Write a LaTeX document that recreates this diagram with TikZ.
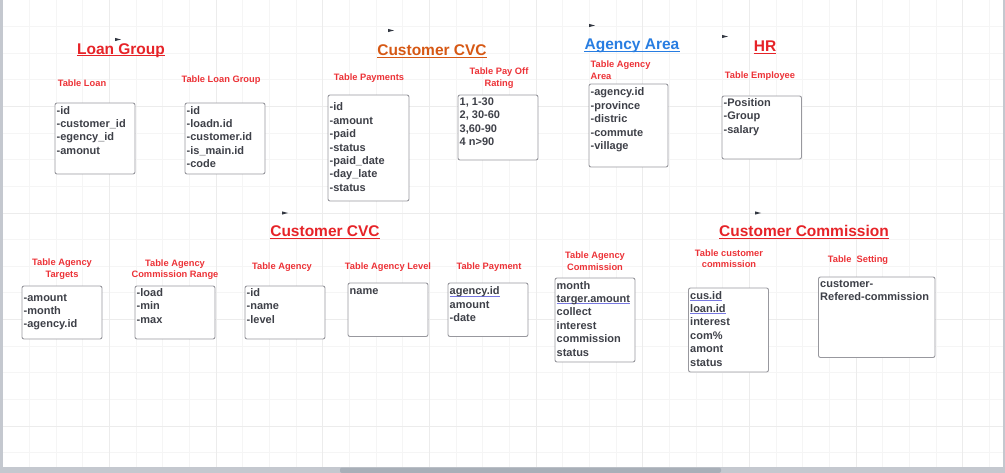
\documentclass[tikz,border=0pt]{standalone}
\usepackage{fontspec}
\setmainfont{Liberation Sans}
\definecolor{ttlred}{RGB}{230,35,40}
\definecolor{ttlorange}{RGB}{214,88,20}
\definecolor{ttlblue}{RGB}{40,125,225}
\definecolor{lblred}{RGB}{236,50,55}
\definecolor{fldgray}{RGB}{62,64,72}
\definecolor{boxgray}{RGB}{152,152,158}
\definecolor{lnkblue}{RGB}{120,120,225}
\definecolor{bargray}{RGB}{196,200,207}
\definecolor{thumbgray}{RGB}{168,175,184}
\definecolor{flagdark}{RGB}{50,55,65}
\newcommand{\lnk}[1]{\setbox0\hbox{#1}\rlap{\color{lnkblue}\rule[-1.7pt]{\wd0}{0.9pt}}\box0}

\begin{document}
\begin{tikzpicture}[x=1pt,y=-1pt,
  ttl/.style={font=\fontsize{15.5}{18}\selectfont\bfseries, inner sep=0pt, anchor=north, execute at begin node=\vphantom{Tb}},
  lbl/.style={font=\fontsize{9.3}{11.6}\selectfont\bfseries, text=lblred, inner sep=0pt, align=center, anchor=north, execute at begin node=\vphantom{Tb}},
  tbl/.style={draw=boxgray, line width=0.9pt, rounded corners=2pt, fill=white, inner sep=0pt, outer sep=0pt, anchor=north west},
  fld/.style={font=\fontsize{11}{13.4}\selectfont\bfseries, text=fldgray, inner sep=0pt, align=left, anchor=north west, execute at begin node=\vphantom{Tb}},
  ul/.style={line width=1.3pt}]
\useasboundingbox (0,0) rectangle (1005,473);
% grid
\foreach \k in {1,...,37} \draw[gray!8, line width=0.9pt] (2.7+26.67*\k,0) -- (2.7+26.67*\k,467);
\foreach \k in {1,...,17} \draw[gray!8, line width=0.9pt] (0,26.63*\k) -- (1005,26.63*\k);
\foreach \k in {4,8,...,36} \draw[gray!15, line width=0.9pt] (2.7+26.67*\k,0) -- (2.7+26.67*\k,467);
\foreach \k in {4,8,12,16} \draw[gray!15, line width=0.9pt] (0,26.63*\k) -- (1005,26.63*\k);
\fill[bargray] (0,0) rectangle (2.5,467);
\fill[bargray] (1002.5,0) rectangle (1005,467);
\fill[bargray] (0,467) rectangle (1005,473);
\fill[thumbgray, rounded corners=2pt] (340,467.5) rectangle (721,473);
\foreach \fx/\fy in {118/39.5, 391/30.5, 592/25.5, 725/36.5, 285/213, 758/213}
  \fill[flagdark] (\fx-3,\fy-1.6) -- (\fx+3,\fy) -- (\fx-3,\fy+1.6) -- cycle;

\node[ttl, text=ttlred] (lg) at (121, 42.7) {Loan Group};
\node[ttl, text=ttlorange] (cvc1) at (432, 44.4) {Customer CVC};
\node[ttl, text=ttlblue] (area) at (632, 38.5) {Agency Area};
\node[ttl, text=ttlred] (hr) at (765, 40.5) {HR};
\node[ttl, text=ttlred] (cvc2) at (325, 225.5) {Customer CVC};
\node[ttl, text=ttlred] (ccom) at (804, 225.5) {Customer Commission};
\draw[ul, ttlred] ([yshift=-1.6pt]lg.base west) -- ([yshift=-1.6pt]lg.base east);
\draw[ul, ttlorange] ([yshift=-1.6pt]cvc1.base west) -- ([yshift=-1.6pt]cvc1.base east);
\draw[ul, ttlblue] ([yshift=-1.6pt]area.base west) -- ([yshift=-1.6pt]area.base east);
\draw[ul, ttlred] ([yshift=-1.6pt]hr.base west) -- ([yshift=-1.6pt]hr.base east);
\draw[ul, ttlred] ([yshift=-1.6pt]cvc2.base west) -- ([yshift=-1.6pt]cvc2.base east);
\draw[ul, ttlred] ([yshift=-1.6pt]ccom.base west) -- ([yshift=-1.6pt]ccom.base east);

\node[lbl] (loanL) at (82, 79.5) {Table Loan};
\node[lbl] (lgrpL) at (221, 75.5) {Table Loan Group};
\node[lbl] (payL) at (369, 73.5) {Table Payments};
\node[lbl] (rateL) at (499, 67.5) {Table Pay Off\\Rating};
\node[lbl, align=left, anchor=north west] (areaL) at (590.5, 60.5) {Table Agency\\Area};
\node[lbl] (empL) at (760, 72) {Table Employee};
\node[lbl] (tgtL) at (62, 258.5) {Table Agency\\Targets};
\node[lbl] (rngL) at (175, 259.2) {Table Agency\\Commission Range};
\node[lbl] (agyL) at (282, 262.2) {Table Agency};
\node[lbl] (lvlL) at (388, 262.2) {Table Agency Level};
\node[lbl] (pmtL) at (489, 262.2) {Table Payment};
\node[lbl] (acomL) at (595, 251.5) {Table Agency\\Commission};
\node[lbl] (ccomL) at (729, 249.2) {Table customer\\commission};
\node[lbl] (setL) at (858, 255.5) {Table\ \ Setting};

\node[tbl, minimum width=80, minimum height=71] (loan) at (55,103) {};
\node[tbl, minimum width=80, minimum height=71] (lgrp) at (185,103) {};
\node[tbl, minimum width=81, minimum height=106] (pay) at (328,95) {};
\node[tbl, minimum width=80, minimum height=65] (rate) at (458,95) {};
\node[tbl, minimum width=79, minimum height=83] (agya) at (589,84) {};
\node[tbl, minimum width=79.5, minimum height=63] (emp) at (722,96) {};
\node[tbl, minimum width=80, minimum height=53] (tgt) at (22,286) {};
\node[tbl, minimum width=80, minimum height=53] (rng) at (135,286) {};
\node[tbl, minimum width=80, minimum height=53] (agy) at (245,286) {};
\node[tbl, minimum width=80, minimum height=53.5] (lvl) at (348,283) {};
\node[tbl, minimum width=80, minimum height=53.5] (pmt) at (448,283) {};
\node[tbl, minimum width=80, minimum height=84] (acom) at (555,278) {};
\node[tbl, minimum width=80, minimum height=84] (ccom) at (688.5,288) {};
\node[tbl, minimum width=116.5, minimum height=80.5] (set) at (818.5,277) {};

\node[fld] (loanF) at (56.5,106) {-id\\-customer\_id\\-egency\_id\\-amonut};
\node[fld] (lgrpF) at (186.5,106) {-id\\-loadn.id\\-customer.id\\-is\_main.id\\-code};
\node[fld] (payF) at (329.5,102.7) {-id\\-amount\\-paid\\-status\\-paid\_date\\-day\_late\\-status};
\node[fld] (rateF) at (459.5,97.7) {1, 1-30\\2, 30-60\\3,60-90\\4 n>90};
\node[fld] (agyaF) at (590.5,87.7) {-agency.id\\-province\\-distric\\-commute\\-village};
\node[fld] (empF) at (723.5,98.3) {-Position\\-Group\\-salary};
\node[fld] (tgtF) at (23.5,293.7) {-amount\\-month\\-agency.id};
\node[fld] (rngF) at (136.5,288.3) {-load\\-min\\-max};
\node[fld] (agyF) at (246.5,288.3) {-id\\-name\\-level};
\node[fld] (lvlF) at (349.5,286) {name};
\node[fld] (pmtF) at (449.5,286.7) {\lnk{agency.id}\\amount\\-date};
\node[fld] (acomF) at (556.5,281) {month\\\lnk{targer.amount}\\collect\\interest\\commission\\status};
\node[fld] (ccomF) at (690,291) {\lnk{cus.id}\\\lnk{loan.id}\\interest\\com\%\\amont\\status};
\node[fld] (setF) at (820,280) {customer-\\Refered-commission};
\end{tikzpicture}
\end{document}
